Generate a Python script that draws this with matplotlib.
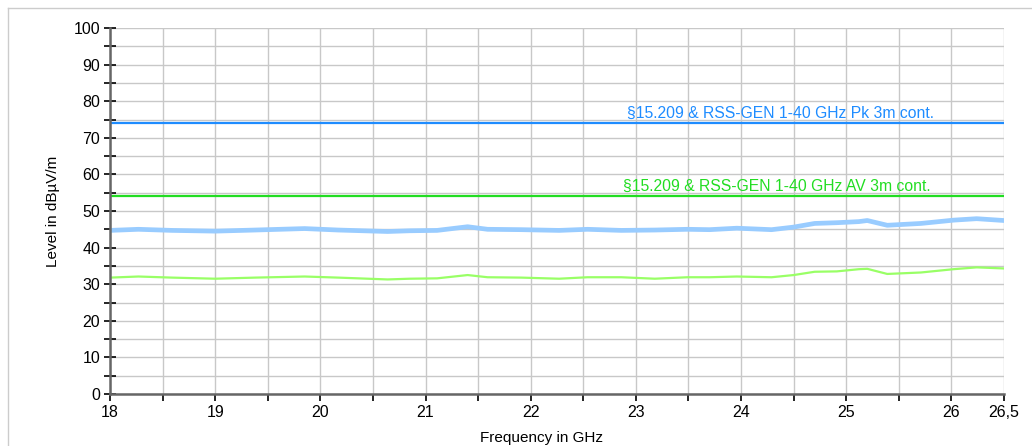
import matplotlib.pyplot as plt
from matplotlib.lines import Line2D

plt.rcParams['font.family'] = ['Liberation Sans', 'DejaVu Sans']

freq = [18.0, 18.27, 18.59, 19.0, 19.38, 19.85, 20.17, 20.64, 20.85, 21.11,
        21.4, 21.59, 21.91, 22.27, 22.54, 22.86, 23.18, 23.49, 23.7, 23.96,
        24.29, 24.5, 24.7, 24.91, 25.12, 25.2, 25.39, 25.71, 26.02, 26.24, 26.5]
peak = [44.7, 45.0, 44.7, 44.5, 44.8, 45.2, 44.8, 44.4, 44.6, 44.7,
        45.7, 45.0, 44.9, 44.7, 45.0, 44.7, 44.8, 45.0, 44.9, 45.3,
        44.9, 45.6, 46.6, 46.8, 47.1, 47.4, 46.1, 46.6, 47.5, 47.9, 47.4]
average = [31.8, 32.1, 31.8, 31.5, 31.8, 32.1, 31.8, 31.3, 31.5, 31.6,
           32.5, 31.9, 31.8, 31.5, 31.9, 31.9, 31.5, 31.9, 31.9, 32.1,
           31.9, 32.5, 33.4, 33.5, 34.1, 34.2, 32.8, 33.2, 34.1, 34.6, 34.3]

# limit lines
limit_pk = 74
limit_av = 54
label_pk = '§15.209 & RSS-GEN 1-40 GHz Pk 3m cont.'
label_av = '§15.209 & RSS-GEN 1-40 GHz AV 3m cont.'

xticks = [18, 19, 20, 21, 22, 23, 24, 25, 26, 26.5]
xticklabels = ['18', '19', '20', '21', '22', '23', '24', '25', '26', '26,5']

fig = plt.figure(figsize=(10.32, 4.46), dpi=100)
ax = fig.add_axes([110 / 1032, 52 / 446, 894 / 1032, 366 / 446])

# outer frame
fig.add_artist(Line2D([8 / 1032, 1], [1 - 8 / 446, 1 - 8 / 446], color='#cccccc', lw=1))
fig.add_artist(Line2D([8 / 1032, 8 / 1032], [0, 1 - 8 / 446], color='#cccccc', lw=1))

ax.plot(freq, peak, color='#99ccff', lw=3.4, solid_joinstyle='round')
ax.plot(freq, average, color='#99ff66', lw=1.6)

ax.axhline(limit_pk, color='#1e8cff', lw=1.6)
ax.axhline(limit_av, color='#22dd22', lw=1.6)
ax.text(25.83, limit_pk + 0.6, label_pk, color='#1e8cff', ha='right', va='bottom', fontsize=11.3)
ax.text(25.80, limit_av + 0.6, label_av, color='#22dd22', ha='right', va='bottom', fontsize=11.3)

ax.set_xlim(18, 26.5)
ax.set_ylim(0, 100)
ax.set_xticks(xticks)
ax.set_xticklabels(xticklabels)
ax.set_xticks([18 + 0.5 * i for i in range(18)], minor=True)
ax.set_yticks(range(0, 101, 10))
ax.set_yticks(range(5, 100, 10), minor=True)

ax.grid(True, which='both', color='#c8c8c8', lw=1)
ax.set_axisbelow(True)
for s in ['top', 'right']:
    ax.spines[s].set_visible(False)
for s in ['left', 'bottom']:
    ax.spines[s].set_color('#666666')
    ax.spines[s].set_linewidth(1.8)
    ax.spines[s].set_zorder(5)

ax.tick_params(axis='y', which='both', direction='inout', length=8, width=1.2, color='black', labelsize=11.5, pad=3)
ax.tick_params(axis='x', which='both', direction='out', length=5, width=1.2, color='black', labelsize=11.5, pad=3)

ax.set_ylabel('Level in dBµV/m', fontsize=11, labelpad=10)
fig.text(541 / 1032, 1 - 438 / 446, 'Frequency in GHz', ha='center', va='center', fontsize=11)

fig.savefig('out.png', dpi=100)
